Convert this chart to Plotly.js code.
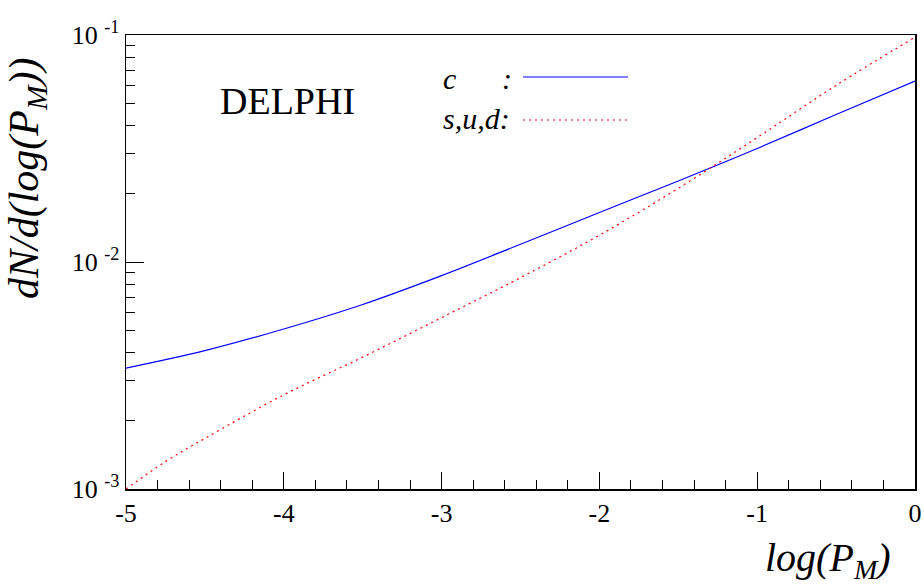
<!DOCTYPE html>
<html>
<head>
<meta charset="utf-8">
<script src="https://cdn.plot.ly/plotly-3.0.1.min.js"></script>
<style>
  html, body { margin: 0; padding: 0; background: #fff; }
  #plotArea { width: 924px; height: 585px; }
</style>
</head>
<body>
<div id="plotArea"></div>
<script>
// values (log scale on y)
var xC = [-5, -4.5, -4, -3.5, -3, -2.5, -2, -1.5, -1, -0.5, 0];
var yC = [0.00341, 0.00407, 0.00507, 0.00650, 0.00871, 0.01197, 0.01652, 0.02275, 0.03162, 0.04467, 0.06266];

var xSUD = [-5, -4.75, -4.5, -4, -3.5, -3, -2.5, -2, -1.5, -1, -0.5, 0];
var ySUD = [0.00100, 0.00132, 0.00167, 0.00260, 0.00381, 0.00569, 0.00853, 0.01312, 0.02113, 0.03532, 0.05998, 0.09772];

var xTickVals = [-5, -4, -3, -2, -1, 0];
var xTickText = ['-5', '-4', '-3', '-2', '-1', '0'];
var yTickVals = [0.001, 0.01, 0.1];
var yTickText = ['10 <sup>-3</sup>', '10 <sup>-2</sup>', '10 <sup>-1</sup>'];
var yMinorVals = [0.002, 0.003, 0.004, 0.005, 0.006, 0.007, 0.008, 0.009,
                  0.02, 0.03, 0.04, 0.05, 0.06, 0.07, 0.08, 0.09];

var serif = 'Liberation Serif';

var traceC = {
    x: xC, y: yC,
    mode: 'lines', type: 'scatter',
    line: {color: '#0000ff', width: 1.2, shape: 'spline'},
    showlegend: false
};

var traceSUD = {
    x: xSUD, y: ySUD,
    mode: 'lines', type: 'scatter',
    line: {color: '#ff0000', width: 1.2, dash: '2px,4px', shape: 'spline'},
    showlegend: false
};

var layout = {
    width: 924, height: 585,
    margin: {l: 126, r: 9, t: 35, b: 96},
    paper_bgcolor: '#fff', plot_bgcolor: '#fff',
    font: {family: serif, size: 26, color: '#000'},
    xaxis: {
        range: [-5, 0],
        tickvals: xTickVals, ticktext: xTickText,
        ticks: 'inside', ticklen: 17, tickwidth: 1, tickcolor: '#000',
        minor: {dtick: 0.2, tick0: 0, ticks: 'inside', ticklen: 9, tickwidth: 1, tickcolor: '#000', showgrid: false},
        tickfont: {size: 26, family: serif, color: '#000'},
        showline: true, mirror: true, linecolor: '#000', linewidth: 1.5,
        showgrid: false, zeroline: false
    },
    yaxis: {
        type: 'log', range: [-3, -1],
        tickvals: yTickVals, ticktext: yTickText,
        ticks: 'inside', ticklen: 18, tickwidth: 1, tickcolor: '#000',
        minor: {tickvals: yMinorVals, ticks: 'inside', ticklen: 9, tickwidth: 1, tickcolor: '#000', showgrid: false},
        tickfont: {size: 26, family: serif, color: '#000'},
        showline: true, mirror: true, linecolor: '#000', linewidth: 1.5,
        showgrid: false, zeroline: false
    },
    shapes: [
        {type: 'line', xref: 'paper', yref: 'paper', x0: 0.5032, x1: 0.6362, y0: 0.9075, y1: 0.9075,
         line: {color: '#0000ff', width: 1.2}},
        {type: 'line', xref: 'paper', yref: 'paper', x0: 0.5032, x1: 0.6362, y0: 0.8128, y1: 0.8128,
         line: {color: '#ff0000', width: 1.2, dash: '2px,4px'}}
    ],
    annotations: [
        {text: 'DELPHI', xref: 'paper', yref: 'paper', x: 0.2053, y: 0.8546,
         xanchor: 'center', yanchor: 'middle', showarrow: false,
         font: {size: 38, family: serif}},
        {text: '<i>c</i>', xref: 'paper', yref: 'paper', x: 0.3992, y: 0.905,
         xanchor: 'left', yanchor: 'middle', showarrow: false,
         font: {size: 30, family: serif}},
        {text: '<i>:</i>', xref: 'paper', yref: 'paper', x: 0.4835, y: 0.905,
         xanchor: 'center', yanchor: 'middle', showarrow: false,
         font: {size: 30, family: serif}},
        {text: '<i>s,u,d:</i>', xref: 'paper', yref: 'paper', x: 0.3992, y: 0.815,
         xanchor: 'left', yanchor: 'middle', showarrow: false,
         font: {size: 30, family: serif}},
        {text: '<i>dN/d(log(P<sub>M</sub>))</i>', xref: 'paper', yref: 'paper', x: -0.1255, y: 0.685,
         xanchor: 'center', yanchor: 'middle', textangle: -90, showarrow: false,
         font: {size: 42, family: serif}},
        {text: '<i>log(P<sub>M</sub>)</i>', xref: 'paper', yref: 'paper', x: 0.972, y: -0.156,
         xanchor: 'right', yanchor: 'middle', showarrow: false,
         font: {size: 40, family: serif}}
    ]
};

Plotly.newPlot('plotArea', [traceC, traceSUD], layout, {displayModeBar: false, staticPlot: true});
</script>
</body>
</html>
